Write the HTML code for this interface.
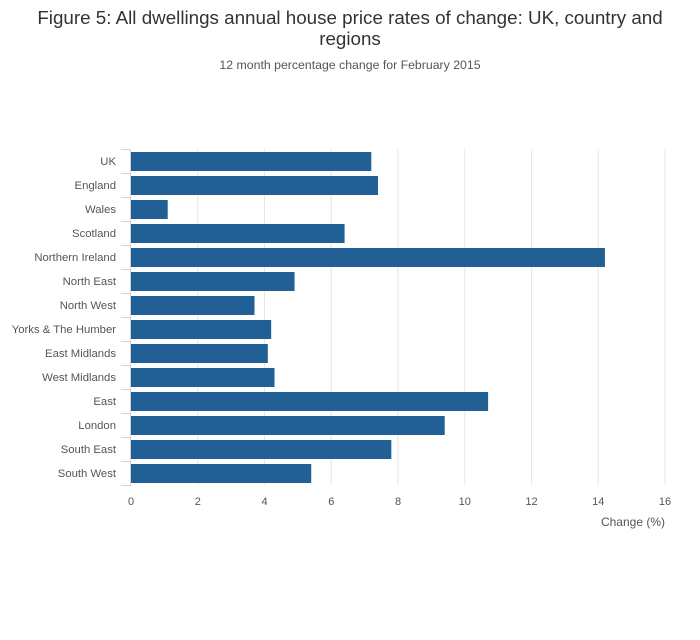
<!DOCTYPE html>
<html><head><meta charset="utf-8"><style>
body{margin:0;background:#fff;font-family:"Liberation Sans","DejaVu Sans",sans-serif;}
</style></head><body>
<svg width="700" height="635" xmlns="http://www.w3.org/2000/svg">
<text x="350" y="24" text-anchor="middle" font-size="18.8" fill="#333">Figure 5: All dwellings annual house price rates of change: UK, country and</text>
<text x="350" y="45" text-anchor="middle" font-size="18.8" fill="#333">regions</text>
<text x="350" y="69" text-anchor="middle" font-size="12.3" fill="#555">12 month percentage change for February 2015</text>
<g id="grid"></g><g id="bars"></g><g id="axes"></g>
<text x="665" y="526" text-anchor="end" font-size="12" fill="#555">Change (%)</text>
</svg>
<script>
const categories=["UK","England","Wales","Scotland","Northern Ireland","North East","North West","Yorks & The Humber","East Midlands","West Midlands","East","London","South East","South West"];
const values=[7.2,7.4,1.1,6.4,14.2,4.9,3.7,4.2,4.1,4.3,10.7,9.4,7.8,5.4];
const xTicks=[0,2,4,6,8,10,12,14,16];
const NS="http://www.w3.org/2000/svg";
const x0=131,x1=665,xMax=16,yTop=149,step=24;
const xs=v=>x0+(x1-x0)*v/xMax;
const yb=i=>yTop+i*step;
function mk(t,a,p){const e=document.createElementNS(NS,t);for(const k in a)e.setAttribute(k,a[k]);p.appendChild(e);return e;}
const grid=document.getElementById('grid'),bars=document.getElementById('bars'),axes=document.getElementById('axes');
xTicks.forEach(t=>{
  if(t>0){const l=mk('line',{x1:xs(t),x2:xs(t),y1:yTop,y2:yb(categories.length),stroke:'#e6e6e6','stroke-width':1},grid);
  
  }
  const tx=mk('text',{x:xs(t),y:505,'text-anchor':'middle','font-size':11,fill:'#555'},axes);
  tx.textContent=t;
  
  
});
const ax=mk('line',{x1:x0-0.5,x2:x0-0.5,y1:yTop,y2:yb(categories.length),stroke:'#c8d4e3','stroke-width':1},axes);


for(let i=0;i<=categories.length;i++){
  const tk=mk('line',{x1:x0-10,x2:x0,y1:yb(i)+0.5,y2:yb(i)+0.5,stroke:'#c8d4e3','stroke-width':1},axes);
  
  
}
categories.forEach((c,i)=>{
  const r=mk('rect',{x:x0,y:yb(i)+3,width:xs(values[i])-x0,height:19,fill:'#206095'},bars);
  
  
  const t=mk('text',{x:116,y:yb(i)+16,'text-anchor':'end','font-size':11.3,fill:'#555'},axes);
  t.textContent=c;
  
  
});
</script>
</body></html>
